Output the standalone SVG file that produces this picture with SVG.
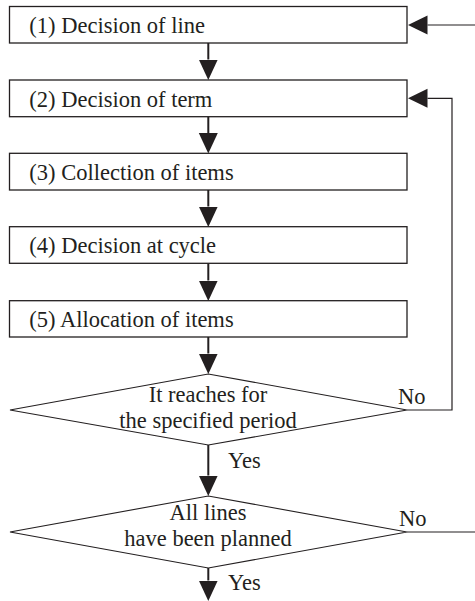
<svg xmlns="http://www.w3.org/2000/svg" width="475" height="601" viewBox="0 0 475 601">
<style>
.box{fill:#fff;stroke:#231f20;stroke-width:1.3}
.dia{fill:#fff;stroke:#231f20;stroke-width:1.1}
text{font-size:22.5px;fill:#231f20}
.c{text-anchor:middle}
.down{fill:none;stroke:#231f20;stroke-width:2}
.thin{fill:none;stroke:#231f20;stroke-width:1.2}
</style>
<defs>
<marker id="ah" markerUnits="userSpaceOnUse" markerWidth="22" markerHeight="20" refX="0" refY="9.5" orient="auto" viewBox="0 0 22 20">
<path d="M0,0 L20.5,9.5 L0,19 z" fill="#231f20"/>
</marker>
<marker id="ahs" markerUnits="userSpaceOnUse" markerWidth="22" markerHeight="22" refX="0" refY="9.5" orient="auto" viewBox="0 0 22 22">
<path d="M0,0 L19.5,9.5 L0,19 z" fill="#231f20"/>
</marker>
</defs>
<g id="connectors">
<path class="down" d="M208.3,43 V59.5" marker-end="url(#ah)"/>
<path class="down" d="M208.3,117 V133" marker-end="url(#ah)"/>
<path class="down" d="M208.3,190 V206.5" marker-end="url(#ah)"/>
<path class="down" d="M208.3,263.3 V280.5" marker-end="url(#ah)"/>
<path class="down" d="M208.3,337 V353.5" marker-end="url(#ah)"/>
<path class="down" d="M208.3,445 V475.5" marker-end="url(#ah)"/>
<path class="down" d="M208.3,568 V580.5" marker-end="url(#ah)"/>
<path class="thin" d="M407,410 H452 V98.3 H427.5" marker-end="url(#ahs)"/>
<path class="thin" d="M475,25 H427.5" marker-end="url(#ahs)"/>
<path class="thin" d="M407,532 H475"/>
</g>
<g font-family="Liberation Serif, Times New Roman, serif">
<g id="n1">
<rect class="box" x="9.5" y="6.5" width="397.5" height="36.5"/>
<text x="29.3" y="33.3">(1) Decision of line</text>
</g>
<g id="n2">
<rect class="box" x="9.5" y="80" width="397.5" height="36.7"/>
<text x="29.3" y="106.5">(2) Decision of term</text>
</g>
<g id="n3">
<rect class="box" x="9.5" y="153.3" width="397.5" height="36.7"/>
<text x="29.3" y="180">(3) Collection of items</text>
</g>
<g id="n4">
<rect class="box" x="9.5" y="226.7" width="397.5" height="36.6"/>
<text x="29.3" y="253.3">(4) Decision at cycle</text>
</g>
<g id="n5">
<rect class="box" x="9.5" y="300.7" width="397.5" height="36.3"/>
<text x="29.3" y="327.3">(5) Allocation of items</text>
</g>
<g id="d1">
<polygon class="dia" points="10,410 208.3,374 407,410 208.3,445"/>
<text class="c" x="208" y="401.5">It reaches for</text>
<text class="c" x="208" y="428">the specified period</text>
</g>
<g id="d2">
<polygon class="dia" points="10,532 208.3,496 407,532 208.3,568"/>
<text class="c" x="208" y="519.5">All lines</text>
<text class="c" x="208" y="546">have been planned</text>
</g>
<g id="labels">
<text x="398" y="404">No</text>
<text x="228" y="468">Yes</text>
<text x="399" y="525.5">No</text>
<text x="228" y="590">Yes</text>
</g>
</g>
</svg>
